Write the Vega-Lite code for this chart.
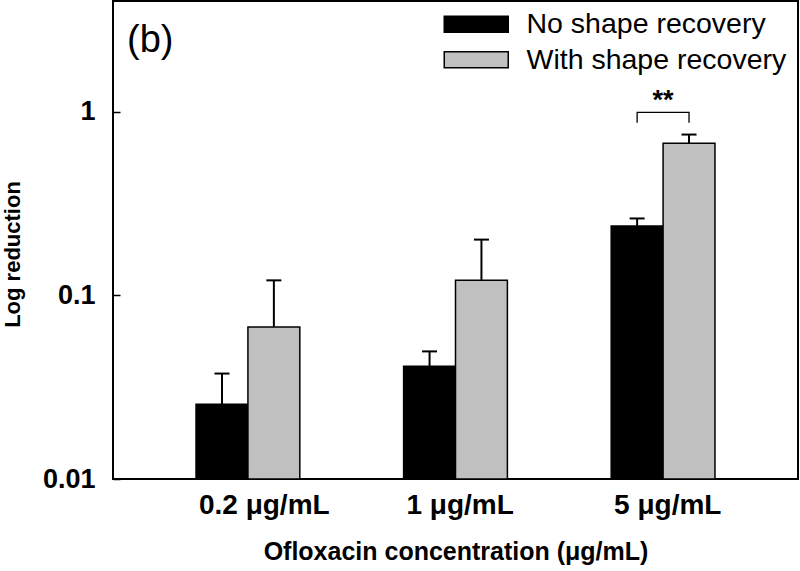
{
  "$schema": "https://vega.github.io/schema/vega-lite/v6.json",
  "width": 685,
  "height": 478,
  "autosize": {"type": "none"},
  "padding": {"left": 113, "top": 1, "right": 2, "bottom": 92},
  "title": {"text": "(b)", "anchor": "start", "frame": "group", "fontSize": 38, "fontWeight": "normal", "font": "Liberation Sans", "color": "black", "dx": 14, "dy": 59, "offset": 0},
  "datasets": {
    "bars": [
      {"conc": "0.2 μg/mL", "group": "No shape recovery", "value": 0.0255, "upper": 0.0375},
      {"conc": "0.2 μg/mL", "group": "With shape recovery", "value": 0.0673, "upper": 0.1206},
      {"conc": "1 μg/mL", "group": "No shape recovery", "value": 0.0411, "upper": 0.0495},
      {"conc": "1 μg/mL", "group": "With shape recovery", "value": 0.1206, "upper": 0.201},
      {"conc": "5 μg/mL", "group": "No shape recovery", "value": 0.238, "upper": 0.262},
      {"conc": "5 μg/mL", "group": "With shape recovery", "value": 0.673, "upper": 0.75}
    ],
    "bracket": [
      {"conc": "5 μg/mL", "group": "No shape recovery", "value": 0.87, "o": 1},
      {"conc": "5 μg/mL", "group": "No shape recovery", "value": 0.99, "o": 2},
      {"conc": "5 μg/mL", "group": "With shape recovery", "value": 0.99, "o": 3},
      {"conc": "5 μg/mL", "group": "With shape recovery", "value": 0.87, "o": 4}
    ],
    "stars": [
      {"conc": "5 μg/mL", "value": 1.14, "label": "**"}
    ]
  },
  "encoding": {
    "x": {"field": "conc", "type": "nominal", "sort": ["0.2 μg/mL", "1 μg/mL", "5 μg/mL"],
          "scale": {"paddingInner": 0.5, "paddingOuter": 0.4},
          "title": "Ofloxacin concentration (μg/mL)",
          "axis": {"ticks": false, "domain": false, "labelAngle": 0, "labelFontSize": 28, "labelFontWeight": "bold", "labelColor": "black", "labelPadding": 12, "labelAlign": "left", "labelOffset": -49,
                   "titleFontSize": 25, "titleFontWeight": "bold", "titleColor": "black", "titlePadding": 20}},
    "y": {"field": "value", "type": "quantitative", "stack": null,
          "scale": {"type": "log", "domain": [0.01, 4], "nice": false},
          "title": "Log reduction",
          "axis": {"values": [0.01, 0.1, 1], "format": "~g", "grid": false, "domain": false, "tickSize": -7, "tickWidth": 1.5, "tickColor": "black",
                   "labelFontSize": 27, "labelFontWeight": "bold", "labelColor": "black", "labelPadding": 25,
                   "titleFontSize": 22, "titleFontWeight": "bold", "titleColor": "black", "titlePadding": 18, "titleY": 253}}
  },
  "layer": [
    {
      "data": {"name": "bars"},
      "mark": {"type": "bar", "stroke": "black", "strokeWidth": 1.5},
      "encoding": {
        "xOffset": {"field": "group", "type": "nominal", "sort": ["No shape recovery", "With shape recovery"], "scale": {"paddingInner": 0, "paddingOuter": 0}},
        "color": {"field": "group", "type": "nominal", "sort": ["No shape recovery", "With shape recovery"],
                  "scale": {"domain": ["No shape recovery", "With shape recovery"], "range": ["#000000", "#c0c0c0"]},
                  "legend": {"orient": "none", "legendX": 349, "legendY": 9, "title": null, "symbolType": "M-4,-1H4V1H-4Z", "symbolSize": 256,
                             "symbolStrokeColor": "black", "symbolStrokeWidth": 1.5, "symbolOpacity": 1, "labelFontSize": 28.5, "labelColor": "black",
                             "labelOffset": 36, "rowPadding": 6.5, "labelLimit": 400, "padding": 0}}
      }
    },
    {
      "data": {"name": "bars"},
      "mark": {"type": "rule", "strokeWidth": 2, "color": "black"},
      "encoding": {
        "xOffset": {"field": "group", "type": "nominal", "sort": ["No shape recovery", "With shape recovery"]},
        "y2": {"field": "upper"}
      }
    },
    {
      "data": {"name": "bars"},
      "mark": {"type": "tick", "orient": "horizontal", "size": 15, "thickness": 2, "color": "black", "opacity": 1},
      "encoding": {
        "xOffset": {"field": "group", "type": "nominal", "sort": ["No shape recovery", "With shape recovery"]},
        "y": {"field": "upper", "type": "quantitative", "stack": null,
              "scale": {"type": "log", "domain": [0.01, 4], "nice": false},
              "title": "Log reduction",
              "axis": {"values": [0.01, 0.1, 1], "format": "~g", "grid": false, "domain": false, "tickSize": -7, "tickWidth": 1.5, "tickColor": "black",
                       "labelFontSize": 27, "labelFontWeight": "bold", "labelColor": "black", "labelPadding": 25,
                       "titleFontSize": 22, "titleFontWeight": "bold", "titleColor": "black", "titlePadding": 18, "titleY": 253}}
      }
    },
    {
      "data": {"name": "bracket"},
      "mark": {"type": "line", "color": "black", "strokeWidth": 1.3},
      "encoding": {
        "xOffset": {"field": "group", "type": "nominal", "sort": ["No shape recovery", "With shape recovery"]},
        "order": {"field": "o", "type": "quantitative"}
      }
    },
    {
      "data": {"name": "stars"},
      "mark": {"type": "text", "fontSize": 27, "fontWeight": "bold", "baseline": "middle", "color": "black"},
      "encoding": {
        "text": {"field": "label"}
      }
    }
  ],
  "config": {
    "font": "Liberation Sans",
    "view": {"stroke": "black", "strokeWidth": 2},
    "background": "white"
  }
}
